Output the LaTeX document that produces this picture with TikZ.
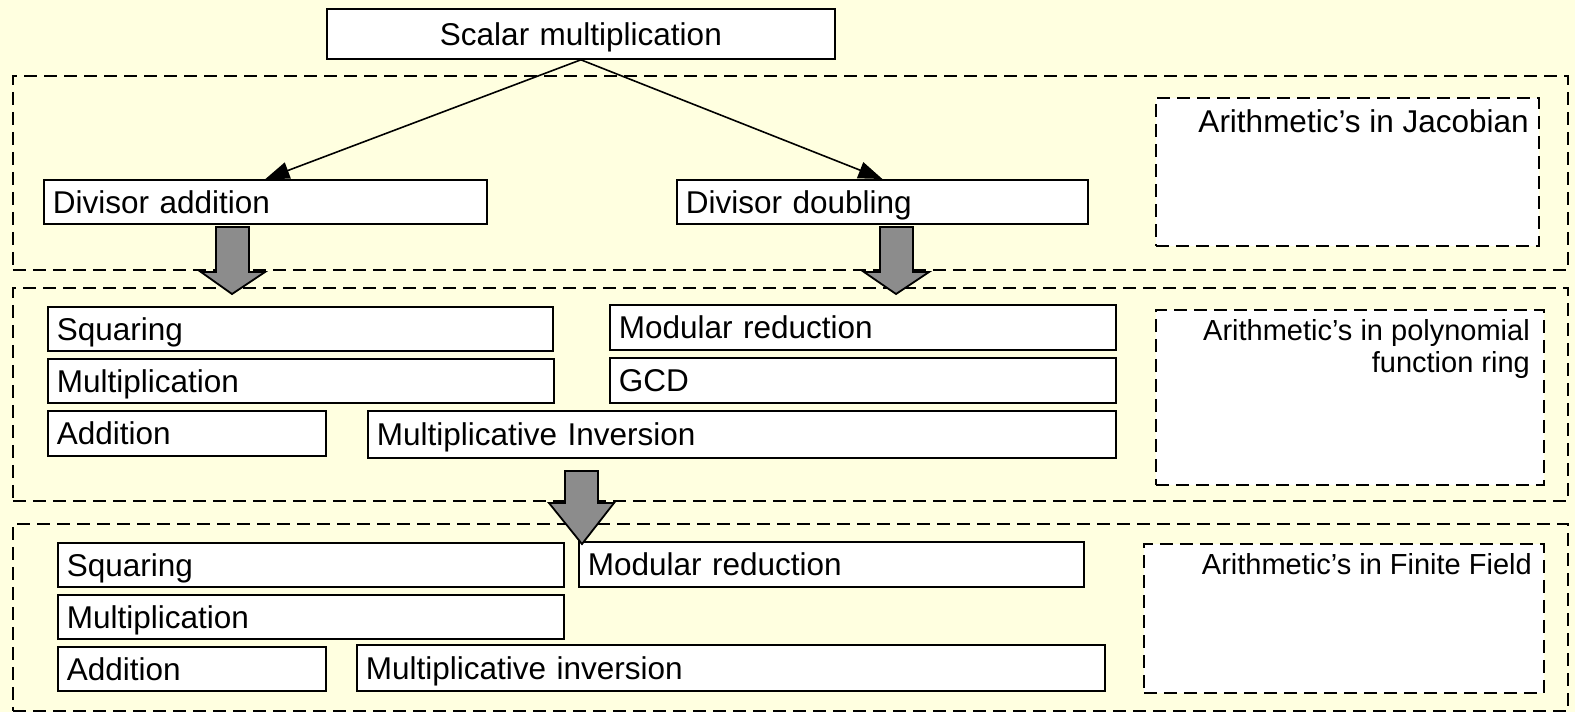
\documentclass[tikz,border=0pt]{standalone}
\usepackage{fontspec}
\setmainfont{Liberation Sans}
\usetikzlibrary{arrows.meta}
\definecolor{bg}{RGB}{255,255,224}
\definecolor{blk}{RGB}{140,140,140}
\newcommand\opnode[6]{%
  \pgfmathsetmacro\tw{#4-#2-18}%
  \pgfmathsetmacro\th{#5-#3}%
  \node[opbox, text width=\tw pt, minimum height=\th pt] (#1) at (#2,#3) {#6};}
\newcommand\areanode[6]{%
  \pgfmathsetmacro\tw{#4-#2}%
  \pgfmathsetmacro\th{#5-#3}%
  \node[#6, anchor=north west, inner sep=0pt, minimum width=\tw pt, minimum height=\th pt] (#1) at (#2,#3) {};}
\begin{document}
\begin{tikzpicture}[x=1pt,y=-1pt,
  grp/.style={draw, line width=1.6pt, dash pattern=on 13pt off 7pt},
  lbl/.style={draw, fill=white, line width=1.6pt, dash pattern=on 13pt off 7pt},
  opbox/.style={draw, fill=white, line width=1.8pt, anchor=north west, inner xsep=9pt, inner ysep=0pt, align=left, text height=22.5pt, text depth=0pt, font=\fontsize{31.5}{36}\selectfont},
  lbltext/.style={inner sep=0pt, align=right},
  blockarrow/.style={draw, fill=blk, line width=1.8pt, line join=miter},
  conn/.style={line width=1.6pt, -{Triangle[length=24pt,width=17pt]}}
]
\fill[bg] (0,0) rectangle (1575,712);
\useasboundingbox (0,0) rectangle (1575,712);

% group areas
\areanode{G1}{12}{75}{1567}{269}{grp}
\areanode{G2}{12}{287}{1567}{500}{grp}
\areanode{G3}{12}{523}{1567}{710}{grp}

% label boxes
\areanode{L1}{1155}{97}{1538}{245}{lbl}
\areanode{L2}{1155}{309}{1543}{484}{lbl}
\areanode{L3}{1143}{543}{1543}{692}{lbl}
\node[lbltext, anchor=base east, font=\fontsize{31.5}{36}\selectfont] (L1t) at (1529,132) {Arithmetic’s in Jacobian};
\node[lbltext, anchor=north east, font=\fontsize{29}{32}\selectfont] (L2t) at (1530,319) {Arithmetic’s in polynomial\\function ring};
\node[lbltext, anchor=base east, font=\fontsize{29}{32}\selectfont] (L3t) at (1532,574) {Arithmetic’s in Finite Field};

% top
\node[opbox, align=center, text width=490pt, minimum height=50pt] (scalar) at (326,8) {Scalar multiplication};
\opnode{dadd}{43}{179}{486}{223}{Divisor addition}
\opnode{ddbl}{676}{179}{1087}{223}{Divisor doubling}

% polynomial ring
\opnode{psq}{47}{306}{552}{350}{Squaring}
\opnode{pmod}{609}{304}{1115}{349}{Modular reduction}
\opnode{pmul}{47}{358}{553}{402}{Multiplication}
\opnode{pgcd}{609}{357}{1115}{402}{GCD}
\opnode{padd}{47}{410}{325}{455}{Addition}
\opnode{pinv}{367}{410}{1115}{457}{Multiplicative Inversion}

% finite field
\opnode{fsq}{57}{542}{563}{586}{Squaring}
\opnode{fmod}{578}{541}{1083}{586}{Modular reduction}
\opnode{fmul}{57}{594}{563}{638}{Multiplication}
\opnode{fadd}{57}{646}{325}{690}{Addition}
\opnode{finv}{356}{644}{1104}{690}{Multiplicative inversion}

% connectors
\draw[conn] (scalar.south) -- (dadd.north);
\draw[conn] (scalar.south) -- (ddbl.north);

% block arrows
\draw[blockarrow] (216,227) -- (249,227) -- (249,272) -- (265,272) -- (232,294) -- (201,272) -- (216,272) -- cycle;
\draw[blockarrow] (880,227) -- (913,227) -- (913,272) -- (929,272) -- (896,294) -- (864,272) -- (880,272) -- cycle;
\draw[blockarrow] (565,471) -- (598,471) -- (598,503) -- (614,503) -- (582,544) -- (549,503) -- (565,503) -- cycle;
\end{tikzpicture}
\end{document}
